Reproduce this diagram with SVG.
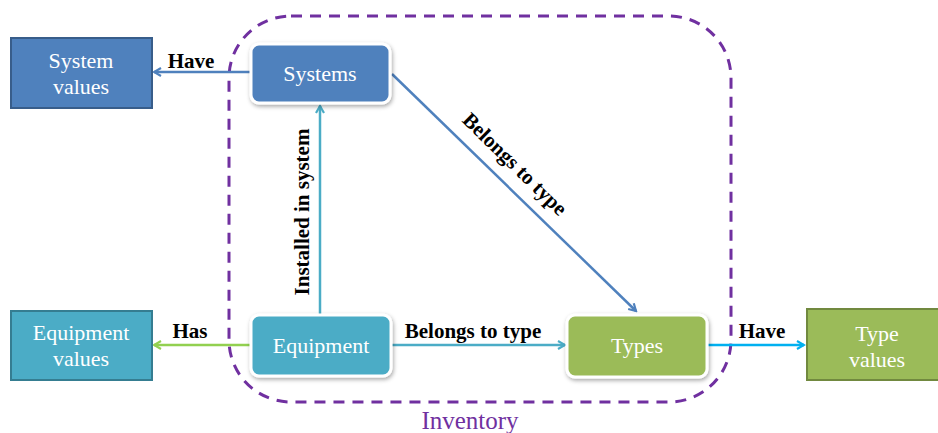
<svg xmlns="http://www.w3.org/2000/svg" width="938" height="433" viewBox="0 0 938 433">
  <defs>
    <style>
      .node-text { font-family: 'Liberation Serif', 'Times New Roman', serif; font-size: 22px; fill: #ffffff; text-anchor: middle; }
      .label { font-family: 'Liberation Serif', 'Times New Roman', serif; font-size: 21px; font-weight: bold; fill: #000000; text-anchor: middle; }
      .inner { stroke: #ffffff; stroke-width: 3; }
      .conn { fill: none; stroke-width: 2.5; }
    </style>
    <filter id="shadow" x="-20%" y="-20%" width="140%" height="150%">
      <feDropShadow dx="1" dy="2" stdDeviation="2" flood-color="#000000" flood-opacity="0.35"/>
    </filter>
    <marker id="arrBlue" markerWidth="10" markerHeight="10" refX="8" refY="5" orient="auto" markerUnits="userSpaceOnUse">
      <path d="M1,1 L8,5 L1,9" fill="none" stroke="#4F81BD" stroke-width="2.2"/>
    </marker>
    <marker id="arrTeal" markerWidth="10" markerHeight="10" refX="8" refY="5" orient="auto" markerUnits="userSpaceOnUse">
      <path d="M1,1 L8,5 L1,9" fill="none" stroke="#4BACC6" stroke-width="2.2"/>
    </marker>
    <marker id="arrGreen" markerWidth="10" markerHeight="10" refX="8" refY="5" orient="auto" markerUnits="userSpaceOnUse">
      <path d="M1,1 L8,5 L1,9" fill="none" stroke="#92D050" stroke-width="2.2"/>
    </marker>
    <marker id="arrCyan" markerWidth="10" markerHeight="10" refX="8" refY="5" orient="auto" markerUnits="userSpaceOnUse">
      <path d="M1,1 L8,5 L1,9" fill="none" stroke="#00B0F0" stroke-width="2.2"/>
    </marker>
  </defs>

  <rect width="938" height="433" fill="#ffffff"/>

  <!-- inventory boundary -->
  <g id="inventory">
    <rect x="229" y="16" width="502" height="386" rx="62" ry="62" fill="none" stroke="#7030A0" stroke-width="3" stroke-dasharray="11,8"/>
    <text x="470" y="429" font-family="'Liberation Serif', 'Times New Roman', serif" font-size="25" fill="#7030A0" text-anchor="middle">Inventory</text>
  </g>

  <!-- connectors -->
  <g id="connectors">
    <line class="conn" x1="251" y1="72" x2="154" y2="72" stroke="#4F81BD" marker-end="url(#arrBlue)"/>
    <line class="conn" x1="251" y1="345" x2="154" y2="345" stroke="#92D050" marker-end="url(#arrGreen)"/>
    <line class="conn" x1="707" y1="345" x2="804" y2="345" stroke="#00B0F0" marker-end="url(#arrCyan)"/>
    <line class="conn" x1="320" y1="314" x2="320" y2="106" stroke="#4BACC6" marker-end="url(#arrTeal)"/>
    <line class="conn" x1="391" y1="345" x2="565" y2="345" stroke="#4BACC6" marker-end="url(#arrTeal)"/>
    <line class="conn" x1="392" y1="74" x2="636" y2="311" stroke="#4F81BD" marker-end="url(#arrBlue)"/>

    <text class="label" x="191" y="68">Have</text>
    <text class="label" x="190" y="338">Has</text>
    <text class="label" x="762" y="338">Have</text>
    <text class="label" x="473" y="338">Belongs to type</text>
    <text class="label" transform="translate(309,212) rotate(-90)">Installed in system</text>
    <text class="label" transform="translate(510,169) rotate(44.3)">Belongs to type</text>
  </g>

  <!-- value boxes -->
  <g id="system-values">
    <rect x="11" y="38" width="141" height="70" fill="#4F81BD" stroke="#385D8A" stroke-width="2"/>
    <text class="node-text" x="81" y="68">System</text>
    <text class="node-text" x="81" y="94">values</text>
  </g>
  <g id="equipment-values">
    <rect x="11" y="311" width="141" height="69" fill="#4BACC6" stroke="#357D91" stroke-width="2"/>
    <text class="node-text" x="81" y="340">Equipment</text>
    <text class="node-text" x="81" y="366">values</text>
  </g>
  <g id="type-values">
    <rect x="807" y="309" width="140" height="71" fill="#9BBB59" stroke="#71893F" stroke-width="2"/>
    <text class="node-text" x="877" y="341">Type</text>
    <text class="node-text" x="877" y="367">values</text>
  </g>

  <!-- inventory entities -->
  <g id="systems">
    <rect class="inner" x="251" y="44" width="139" height="59" rx="8" ry="8" fill="#4F81BD" filter="url(#shadow)"/>
    <text class="node-text" x="320" y="81">Systems</text>
  </g>
  <g id="equipment">
    <rect class="inner" x="251" y="315" width="140" height="61" rx="8" ry="8" fill="#4BACC6" filter="url(#shadow)"/>
    <text class="node-text" x="321" y="353">Equipment</text>
  </g>
  <g id="types">
    <rect class="inner" x="567" y="315" width="140" height="62" rx="8" ry="8" fill="#9BBB59" filter="url(#shadow)"/>
    <text class="node-text" x="637" y="353">Types</text>
  </g>
</svg>
